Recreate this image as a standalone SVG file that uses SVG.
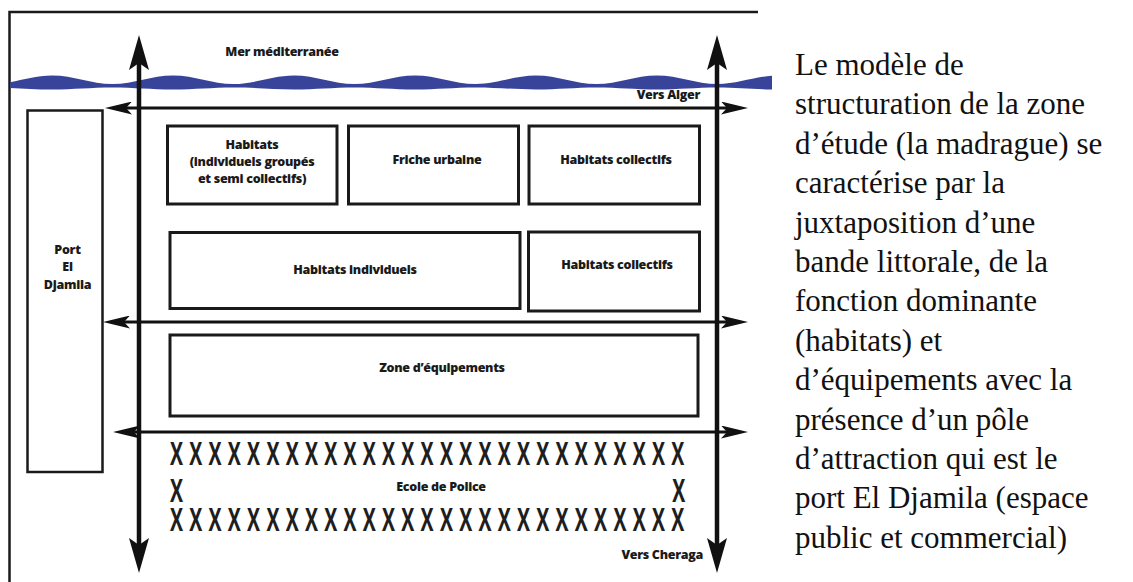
<svg xmlns="http://www.w3.org/2000/svg" width="1133" height="582" viewBox="0 0 1133 582">
<style>
.frame{fill:none;stroke:#1a1a1a;stroke-width:2.5}
.box{fill:none;stroke:#1a1a1a;stroke-width:3}
.lbl{font-family:"Open Sans","Liberation Sans",sans-serif;font-weight:800;font-size:12.5px;letter-spacing:-0.3px;fill:#1a1a1a;text-anchor:middle}
.xs{font-family:"Open Sans","Liberation Sans",sans-serif;font-weight:700;font-size:31.5px;fill:#1e1e1e}
.body{font-family:"Liberation Serif","Times New Roman",serif;font-size:31px;fill:#111}
.vline{stroke:#111;stroke-width:4.5;fill:none}
.hline{stroke:#111;stroke-width:3;fill:none}
</style>
<defs>
<marker id="bigHead" viewBox="0 -10 35 20" refX="7" refY="0" markerWidth="35" markerHeight="20" markerUnits="userSpaceOnUse" orient="auto-start-reverse">
<path d="M0,-10 L35,0 L0,10 L7,0 Z" fill="#111"/>
</marker>
<marker id="smallHead" viewBox="0 -6.5 27 13" refX="6" refY="0" markerWidth="27" markerHeight="13" markerUnits="userSpaceOnUse" orient="auto-start-reverse">
<path d="M0,-6.5 L27,0 L0,6.5 L6,0 Z" fill="#111"/>
</marker>
<clipPath id="waveClip"><rect x="10" y="60" width="762" height="40"/></clipPath>
</defs>
<rect x="0" y="0" width="1133" height="582" fill="#fff"/>

<g id="frame">
<path class="frame" d="M9.5,590 V12 H758"/>
</g>

<g id="sea">
<path clip-path="url(#waveClip)" fill="#38439a" d="M-8.5,84 C13.5,84 30,75.5 52,75.5 C74,75.5 90.5,84 112.5,84 C134.5,84 151,75.5 173,75.5 C195,75.5 211.5,84 233.5,84 C255.5,84 272,75.5 294,75.5 C316,75.5 332.5,84 354.5,84 C376.5,84 393,75.5 415,75.5 C437,75.5 453.5,84 475.5,84 C497.5,84 514,75.5 536,75.5 C558,75.5 574.5,84 596.5,84 C618.5,84 635,75.5 657,75.5 C679,75.5 695.5,84 717.5,84 C739.5,84 756,75.5 778,75.5 L778,89.5 C756,89.5 739.5,87.5 717.5,87.5 C695.5,87.5 679,89.5 657,89.5 C635,89.5 618.5,87.5 596.5,87.5 C574.5,87.5 558,89.5 536,89.5 C514,89.5 497.5,87.5 475.5,87.5 C453.5,87.5 437,89.5 415,89.5 C393,89.5 376.5,87.5 354.5,87.5 C332.5,87.5 316,89.5 294,89.5 C272,89.5 255.5,87.5 233.5,87.5 C211.5,87.5 195,89.5 173,89.5 C151,89.5 134.5,87.5 112.5,87.5 C90.5,87.5 74,89.5 52,89.5 C30,89.5 13.5,87.5 -8.5,87.5 Z"/>
<text class="lbl" x="282" y="56">Mer méditerranée</text>
</g>

<g id="port">
<rect class="frame" x="27.5" y="110.5" width="75" height="361.5"/>
<text class="lbl" x="67.5" y="254">Port</text>
<text class="lbl" x="67.5" y="271">El</text>
<text class="lbl" x="67.5" y="289">Djamila</text>
</g>

<g id="habitats-groupes">
<rect class="box" x="167.5" y="126" width="169.5" height="78"/>
<text class="lbl" x="252" y="149">Habitats</text>
<text class="lbl" x="252" y="166">(individuels groupés</text>
<text class="lbl" x="252" y="183">et semi collectifs)</text>
</g>

<g id="friche-urbaine">
<rect class="box" x="348.5" y="126" width="170" height="78"/>
<text class="lbl" x="437" y="164">Friche urbaine</text>
</g>

<g id="habitats-collectifs-1">
<rect class="box" x="529" y="126" width="170.5" height="78"/>
<text class="lbl" x="616" y="164">Habitats collectifs</text>
</g>

<g id="habitats-individuels">
<rect class="box" x="170" y="232.5" width="350" height="76"/>
<text class="lbl" x="355" y="274">Habitats individuels</text>
</g>

<g id="habitats-collectifs-2">
<rect class="box" x="528.5" y="232" width="171" height="79"/>
<text class="lbl" x="617" y="269">Habitats collectifs</text>
</g>

<g id="zone-equipements">
<rect class="box" x="170" y="335" width="528" height="81"/>
<text class="lbl" x="442" y="372">Zone d’équipements</text>
</g>

<g id="ecole-police">
<text class="xs" transform="translate(170,0) scale(0.62,1)"><tspan x="0" y="465" letter-spacing="10.1">XXXXXXXXXXXXXXXXXXXXXXXXXXX</tspan><tspan x="0" y="502">X</tspan><tspan x="810" y="502">X</tspan><tspan x="0" y="531" letter-spacing="10.1">XXXXXXXXXXXXXXXXXXXXXXXXXXX</tspan></text>
<text class="lbl" x="441" y="491">Ecole de Police</text>
</g>

<g id="connectors">
<line class="vline" x1="139" y1="63" x2="139" y2="545" marker-start="url(#bigHead)" marker-end="url(#bigHead)"/>
<line class="vline" x1="717" y1="63" x2="717" y2="545" marker-start="url(#bigHead)" marker-end="url(#bigHead)"/>
<line class="hline" x1="126" y1="108" x2="727" y2="108" marker-start="url(#smallHead)" marker-end="url(#smallHead)"/>
<line class="hline" x1="124" y1="322" x2="727" y2="322" marker-start="url(#smallHead)" marker-end="url(#smallHead)"/>
<line class="hline" x1="134" y1="432" x2="727" y2="432" marker-start="url(#smallHead)" marker-end="url(#smallHead)"/>
</g>

<g id="directions">
<text class="lbl" x="700" y="99" style="text-anchor:end">Vers Alger</text>
<text class="lbl" x="703" y="559" style="text-anchor:end">Vers Cheraga</text>
</g>

<g id="description">
<text class="body" x="795" y="75">Le modèle de</text>
<text class="body" x="795" y="114.4">structuration de la zone</text>
<text class="body" x="795" y="153.8">d’étude (la madrague) se</text>
<text class="body" x="795" y="193.2">caractérise par la</text>
<text class="body" x="795" y="232.6">juxtaposition d’une</text>
<text class="body" x="795" y="272">bande littorale, de la</text>
<text class="body" x="795" y="311.4">fonction dominante</text>
<text class="body" x="795" y="350.8">(habitats) et</text>
<text class="body" x="795" y="390.2">d’équipements avec la</text>
<text class="body" x="795" y="429.6">présence d’un pôle</text>
<text class="body" x="795" y="469">d’attraction qui est le</text>
<text class="body" x="795" y="508.4">port El Djamila (espace</text>
<text class="body" x="795" y="547.8">public et commercial)</text>
</g>
</svg>
